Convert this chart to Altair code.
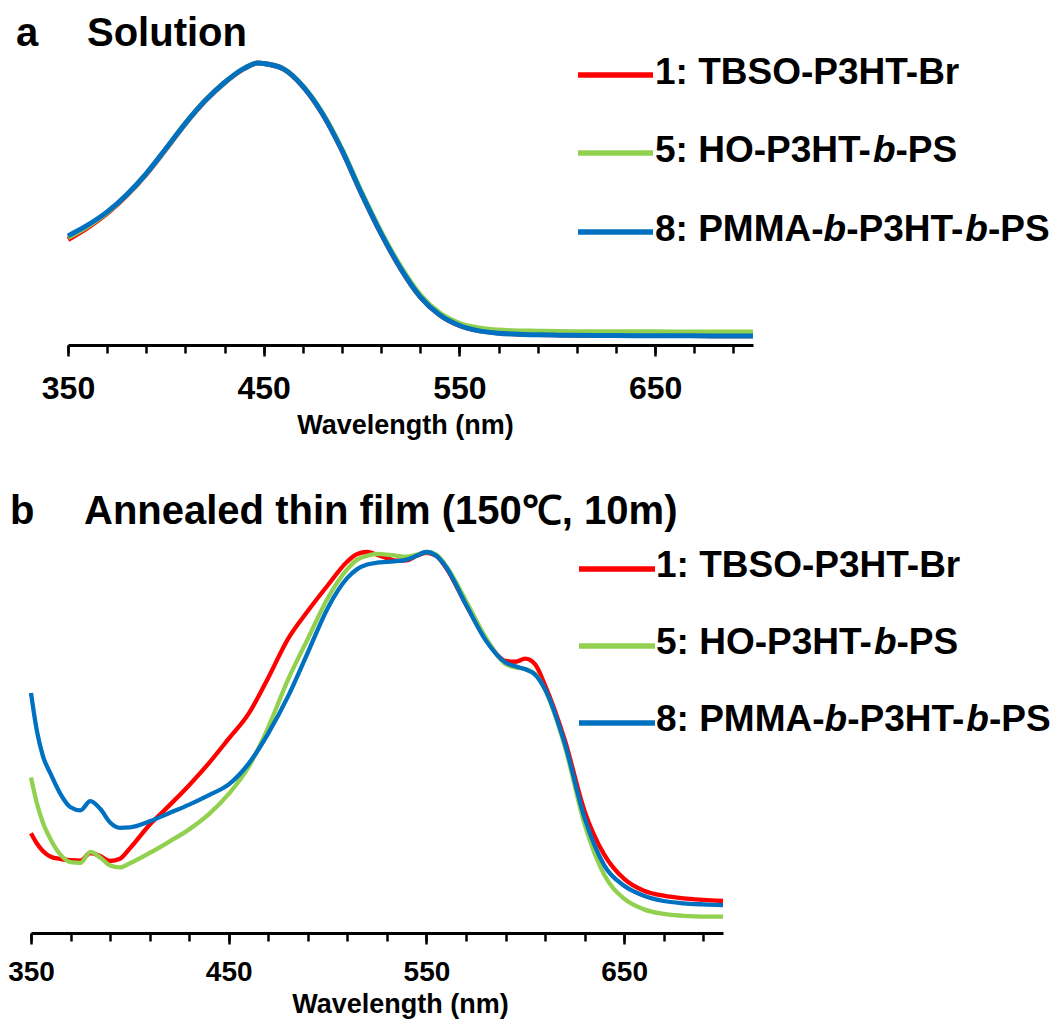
import altair as alt
import pandas as pd

W, H = 1057, 1021
FONT = "Liberation Sans"

series_names = ["1: TBSO-P3HT-Br", "5: HO-P3HT-b-PS", "8: PMMA-b-P3HT-b-PS"]
colors = ["#FF0000", "#92D050", "#0070C0"]
legend_segments = [
    [("1: TBSO-P3HT-Br", False)],
    [("5: HO-P3HT-", False), ("b", True), ("-PS", False)],
    [("8: PMMA-", False), ("b", True), ("-P3HT-", False), ("b", True), ("-PS", False)],
]
panel_titles = [("a", "Solution"), ("b", "Annealed thin film (150\u2103, 10m)")]
axis_title = "Wavelength (nm)"
major_ticks = [350, 450, 550, 650]
minor_ticks = list(range(350, 701, 20))

# ---- panel a: solution spectra (normalised absorbance) ----
a_wl = [350, 360, 370, 380, 390, 400, 410, 420, 430, 440, 447, 450, 460, 470, 480,
        490, 500, 510, 520, 530, 540, 550, 560, 570, 580, 590, 600, 620, 640, 660, 680, 700]
a_red = [0.374, 0.416, 0.467, 0.530, 0.606, 0.694, 0.785, 0.865, 0.930, 0.980, 1.0, 0.998,
         0.979, 0.917, 0.820, 0.690, 0.537, 0.395, 0.271, 0.171, 0.106, 0.069, 0.051, 0.043, 0.039,
         0.037, 0.036, 0.035, 0.034, 0.034, 0.033, 0.033]
a_green = [0.381, 0.421, 0.470, 0.532, 0.607, 0.695, 0.786, 0.866, 0.931, 0.981, 1.0, 0.998,
           0.980, 0.919, 0.823, 0.694, 0.542, 0.401, 0.278, 0.178, 0.113, 0.077, 0.060, 0.053, 0.050,
           0.049, 0.048, 0.047, 0.047, 0.046, 0.046, 0.046]
a_blue = [0.387, 0.425, 0.472, 0.533, 0.608, 0.696, 0.786, 0.866, 0.931, 0.981, 1.0, 0.998,
          0.979, 0.917, 0.820, 0.690, 0.537, 0.395, 0.271, 0.171, 0.106, 0.069, 0.050, 0.042, 0.038,
          0.036, 0.035, 0.034, 0.033, 0.033, 0.032, 0.032]

# ---- panel b: annealed thin film spectra ----
b_wl = [350, 353, 356, 360, 365, 370, 375, 380, 385, 390, 395, 400, 410, 420, 430, 440, 450, 460,
        470, 480, 490, 500, 510, 515, 520, 525, 530, 535, 540, 545, 550, 555, 560, 570, 580, 590,
        595, 600, 605, 610, 620, 630, 640, 650, 660, 670, 680, 690, 700]
b_red = [0.262, 0.235, 0.215, 0.200, 0.194, 0.191, 0.190, 0.210, 0.202, 0.189, 0.195, 0.222, 0.284,
         0.335, 0.388, 0.446, 0.510, 0.575, 0.670, 0.772, 0.845, 0.912, 0.975, 0.995, 1.0, 0.993,
         0.984, 0.977, 0.978, 0.990, 0.998, 0.990, 0.958, 0.862, 0.772, 0.714, 0.712, 0.720, 0.705,
         0.650, 0.506, 0.320, 0.205, 0.142, 0.111, 0.098, 0.091, 0.087, 0.084]
b_green = [0.408, 0.340, 0.290, 0.245, 0.205, 0.186, 0.184, 0.213, 0.198, 0.177, 0.172, 0.183, 0.210,
           0.240, 0.272, 0.312, 0.365, 0.435, 0.540, 0.665, 0.772, 0.878, 0.955, 0.980, 0.990, 0.995,
           0.993, 0.990, 0.988, 0.993, 1.0, 0.993, 0.963, 0.872, 0.775, 0.706, 0.697, 0.693, 0.680,
           0.638, 0.490, 0.285, 0.152, 0.090, 0.062, 0.050, 0.045, 0.043, 0.043]
b_blue = [0.630, 0.530, 0.465, 0.417, 0.364, 0.330, 0.322, 0.346, 0.326, 0.290, 0.276, 0.277, 0.293,
          0.315, 0.337, 0.362, 0.390, 0.444, 0.524, 0.621, 0.736, 0.852, 0.932, 0.955, 0.967, 0.972,
          0.974, 0.976, 0.980, 0.990, 1.0, 0.990, 0.960, 0.862, 0.768, 0.710, 0.700, 0.692, 0.678,
          0.640, 0.497, 0.302, 0.177, 0.124, 0.098, 0.084, 0.078, 0.075, 0.073]

# Arial / Liberation Sans Bold advance widths (1/1000 em) for legend layout
ADV = {'1': 556, '3': 556, '5': 556, '8': 556, ':': 333, ' ': 278, '-': 333, 'A': 722, 'B': 722,
       'H': 722, 'M': 833, 'O': 778, 'P': 667, 'S': 667, 'T': 611, 'b': 611, 'r': 389}


def text_w(s, size):
    return sum(ADV.get(c, 600) for c in s) * size / 1000.0


# panel layout (pixels)
panels = [
    dict(wl=a_wl, ys=[a_red, a_green, a_blue], xr=[68, 753], yr=[345, 63], lw=5,
         lab=32, labpad=17, tsize=27, tx=405, ty=88, title_y=46, title_x=(16, 87),
         leg_x=(578, 653, 655), leg_y=[75, 153, 232], leg_dy=9),
    dict(wl=b_wl, ys=[b_red, b_green, b_blue], xr=[31, 723], yr=[933, 552], lw=4.3,
         lab=28, labpad=14, tsize=27, tx=400, ty=79, title_y=524, title_x=(10, 84),
         leg_x=(579, 655, 656), leg_y=[569, 646, 723], leg_dy=8),
]

layers = []
for p in panels:
    xs = alt.Scale(domain=[350, 700], range=p["xr"], nice=False, zero=False)
    yscale = alt.Scale(domain=[0, 1], range=p["yr"], nice=False, zero=False)
    off = p["yr"][0] - H
    minor_axis = alt.Axis(orient="bottom", offset=off, values=minor_ticks, tickSize=8, tickWidth=2.5,
                          tickColor="black", labels=False, domain=True, domainWidth=3,
                          domainColor="black", grid=False)
    major_axis = alt.Axis(orient="bottom", offset=off, values=major_ticks, tickSize=11, tickWidth=2.5,
                          tickColor="black", domain=False, grid=False, labels=True,
                          labelFont=FONT, labelFontSize=p["lab"], labelFontWeight="bold",
                          labelColor="black", labelPadding=p["labpad"], labelFlush=False,
                          labelOverlap=False, labelBound=False, format="d",
                          titleFont=FONT, titleFontSize=p["tsize"], titleFontWeight="bold",
                          titleColor="black", titleX=p["tx"], titleY=p["ty"],
                          titleBaseline="alphabetic", titleAlign="center", titleAnchor="start")
    axes = [minor_axis, major_axis, None]
    for i, (vals, col) in enumerate(zip(p["ys"], colors)):
        df = pd.DataFrame({"wl": p["wl"], "v": vals})
        ax = axes[i]
        xenc = alt.X("wl:Q", scale=xs, axis=ax, title=(axis_title if i == 1 else None))
        layers.append(
            alt.Chart(df).mark_line(color=col, strokeWidth=p["lw"], interpolate="monotone",
                                    clip=False)
            .encode(x=xenc, y=alt.Y("v:Q", scale=yscale, axis=None))
        )

for p, (letter, title) in zip(panels, panel_titles):
    for txt, xx in zip((letter, title), p["title_x"]):
        layers.append(
            alt.Chart(pd.DataFrame({"t": [txt]})).mark_text(
                align="left", baseline="alphabetic", font=FONT, fontSize=40, fontWeight="bold",
                color="black").encode(text="t:N", x=alt.value(xx), y=alt.value(p["title_y"]))
        )
    x0, x1, tx0 = p["leg_x"]
    for row, (segs, col, ly) in enumerate(zip(legend_segments, colors, p["leg_y"])):
        layers.append(
            alt.Chart(pd.DataFrame({"d": [series_names[row]]})).mark_rule(
                color=col, strokeWidth=5.5).encode(x=alt.value(x0), x2=alt.value(x1),
                                                   y=alt.value(ly))
        )
        cx = tx0
        for seg, ital in segs:
            layers.append(
                alt.Chart(pd.DataFrame({"t": [seg]})).mark_text(
                    align="left", baseline="alphabetic", font=FONT, fontSize=37,
                    fontWeight="bold", fontStyle=("italic" if ital else "normal"),
                    color="black").encode(text="t:N", x=alt.value(cx),
                                          y=alt.value(ly + p["leg_dy"]))
            )
            cx += text_w(seg, 37)

chart = (
    alt.layer(*layers)
    .resolve_scale(x="independent", y="independent")
    .resolve_axis(x="independent", y="independent")
    .properties(width=W, height=H, autosize=alt.AutoSizeParams(type="none"), padding=0,
                background="white")
    .configure_view(stroke=None)
)

chart.save("out.html", embed_options={"renderer": "svg", "actions": False})
